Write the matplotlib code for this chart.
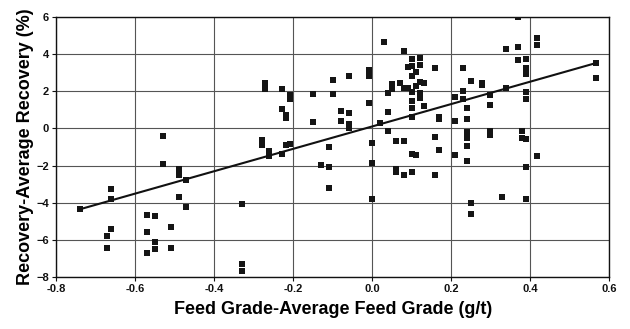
import numpy as np
import matplotlib
matplotlib.use("Agg")
import matplotlib.pyplot as plt

# ===============================
# DATA
# ===============================

feed_grade = [
    -0.739, -0.661, -0.661, -0.661, -0.670, -0.670, -0.530, -0.530, -0.489, -0.489,
    -0.470, -0.489, -0.470, -0.570, -0.550, -0.570, -0.550, -0.550, -0.570, -0.510,
    -0.510, -0.329, -0.329, -0.329, -0.270, -0.270, -0.279, -0.279, -0.260, -0.260,
    -0.229, -0.229, -0.229, -0.219, -0.219, -0.209, -0.209, -0.219, -0.209, -0.149,
    -0.149, -0.129, -0.110, -0.110, -0.110, -0.099, -0.099, -0.079, -0.079, -0.059,
    -0.059, -0.059, -0.059, -0.009, -0.009, -0.009, 0.000, 0.000, 0.000, 0.020,
    0.030, 0.040, 0.040, 0.040, 0.051, 0.051, 0.060, 0.060, 0.060, 0.070,
    0.080, 0.080, 0.080, 0.080, 0.090, 0.090, 0.100, 0.100, 0.100, 0.100,
    0.100, 0.100, 0.100, 0.100, 0.100, 0.110, 0.110, 0.110, 0.120, 0.120,
    0.120, 0.120, 0.120, 0.130, 0.130, 0.160, 0.160, 0.160, 0.170, 0.170,
    0.170, 0.209, 0.209, 0.209, 0.230, 0.230, 0.230, 0.240, 0.240, 0.240,
    0.240, 0.240, 0.240, 0.240, 0.249, 0.249, 0.249, 0.279, 0.279, 0.298,
    0.298, 0.298, 0.298, 0.329, 0.339, 0.339, 0.369, 0.369, 0.369, 0.379,
    0.379, 0.389, 0.389, 0.389, 0.389, 0.389, 0.389, 0.389, 0.389, 0.418,
    0.418, 0.418, 0.567, 0.567,
]

recovery = [
    -4.35, -3.25, -3.78, -5.39, -5.81, -6.46, -0.43, -1.93, -2.18, -2.51,
    -2.75, -3.67, -4.24, -4.64, -4.71, -5.56, -6.13, -6.49, -6.72, -5.28,
    -6.46, -4.05, -7.31, -7.67, 2.46, 2.14, -0.64, -0.89, -1.23, -1.50,
    -1.39, 2.14, 1.05, 0.71, 0.55, 1.82, 1.57, -0.89, -0.82, 1.85,
    0.37, -1.98, -1.02, -2.07, -3.21, 2.59, 1.85, 0.95, 0.41, 2.85,
    0.84, 0.23, 0.05, 3.16, 2.85, 1.39, -0.78, -1.85, -3.78, 0.32,
    4.67, 1.89, 0.89, -0.14, 2.39, 2.14, -0.70, -2.18, -2.35, 2.43,
    4.16, 2.18, -0.70, -2.50, 3.32, 2.18, 3.76, 3.35, 2.82, 1.96,
    1.50, 1.09, 0.61, -1.39, -2.35, 3.03, 2.28, -1.41, 3.82, 3.44,
    2.50, 1.93, 1.64, 2.43, 1.21, 3.25, -0.46, -2.53, 0.61, 0.50,
    -1.18, 1.68, 0.43, -1.44, 3.25, 2.00, 1.57, 1.11, 0.50, -0.20,
    -0.34, -0.52, -0.93, -1.77, 2.57, -4.03, -4.58, 2.43, 2.32, 1.82,
    1.27, -0.11, -0.34, -3.67, 4.26, 2.18, 5.99, 4.39, 3.67, -0.12,
    -0.52, 3.76, 3.25, 2.92, 1.98, 1.57, -0.55, -2.10, -3.78, 4.89,
    4.51, -1.50, 3.53, 2.71,
]

# trend line as drawn in the reference
fit_slope = 6.03
fit_intercept = 0.11

x_ticks = [-0.8, -0.6, -0.4, -0.2, 0.0, 0.2, 0.4, 0.6]
x_tick_labels = ["-0.8", "-0.6", "-0.4", "-0.2", "0.0", "0.2", "0.4", "0.6"]
y_ticks = [-8, -6, -4, -2, 0, 2, 4, 6]

# ===============================
# PLOT
# ===============================

plt.rcParams["font.family"] = ["Liberation Sans", "DejaVu Sans"]

fig = plt.figure(figsize=(6.3, 3.29), dpi=100)
ax = fig.add_axes([0.089, 0.158, 0.878, 0.790])

ax.grid(True, color="#555555", linewidth=0.8)
ax.set_axisbelow(True)

ax.scatter(feed_grade, recovery, marker="s", s=16, color="#151515",
           linewidths=0, zorder=3)

fx = np.array([min(feed_grade), max(feed_grade)])
ax.plot(fx, fit_slope * fx + fit_intercept, color="#111111", linewidth=1.5, zorder=4)

ax.set_xlim(-0.8, 0.6)
ax.set_ylim(-8, 6)
ax.set_xticks(x_ticks)
ax.set_xticklabels(x_tick_labels)
ax.set_yticks(y_ticks)

for lbl in ax.get_xticklabels() + ax.get_yticklabels():
    lbl.set_fontweight("bold")
    lbl.set_fontsize(8)

ax.tick_params(length=3, width=0.8, pad=2, colors="#111111")
for s in ax.spines.values():
    s.set_color("#111111")
    s.set_linewidth(1.0)

ax.set_xlabel("Feed Grade-Average Feed Grade (g/t)", fontsize=13,
              fontweight="bold", labelpad=5)
ax.set_ylabel("Recovery-Average Recovery (%)", fontsize=13,
              fontweight="bold", labelpad=2)

fig.savefig("out.png", dpi=100)
